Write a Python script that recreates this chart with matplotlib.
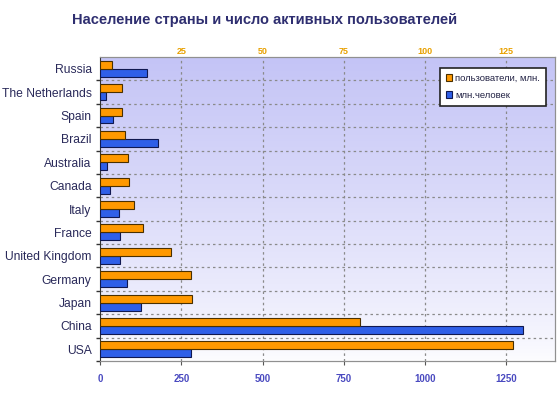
import numpy as np
import matplotlib
matplotlib.use('Agg')
import matplotlib.pyplot as plt

plt.rcParams['font.family'] = ['Liberation Sans', 'DejaVu Sans']

countries = ['Russia', 'The Netherlands', 'Spain', 'Brazil', 'Australia', 'Canada', 'Italy',
             'France', 'United Kingdom', 'Germany', 'Japan', 'China', 'USA']
users = [3.8, 6.7, 6.7, 7.7, 8.5, 8.8, 10.4, 13.2, 21.8, 28.0, 28.3, 80.0, 127.0]   # пользователи, млн. (верхняя ось)
population = [146, 17, 40, 177, 20, 32, 57, 60, 60, 84, 126, 1300, 280]            # млн.человек (нижняя ось)
top_ticks = [25, 50, 75, 100, 125]
bottom_ticks = [0, 250, 500, 750, 1000, 1250]

n = len(countries)
y = np.arange(n)[::-1]
h = 0.34

fig = plt.figure(figsize=(5.6, 3.99), dpi=100)
ax = fig.add_axes([0.1786, 0.0952, 0.8125, 0.7618])
ax.set_xlim(0, 1400)
ax.set_ylim(-0.5, n - 0.5)

# градиентный фон
grad = np.linspace(0, 1, 256).reshape(-1, 1)
top_c = np.array([196, 196, 246]) / 255
bot_c = np.array([253, 253, 255]) / 255
img = bot_c + (top_c - bot_c) * grad[..., None] ** 0.8
ax.imshow(img, extent=[0, 1400, -0.5, n - 0.5], aspect='auto', origin='lower', zorder=0)

ax2 = ax.twiny()
ax2.set_xlim(0, 140)
ax2.patch.set_visible(False)

b1 = ax2.barh(y + h / 2, users, height=h, color='#ff9900', edgecolor='#4a3000', linewidth=0.8,
              label='пользователи, млн.', zorder=3)
b2 = ax.barh(y - h / 2, population, height=h, color='#2f5fe8', edgecolor='#101850', linewidth=0.8,
             label='млн.человек', zorder=3)

ax.set_yticks(y)
ax.set_yticklabels(countries, fontsize=8.7, color='#2a2a5a')
ax.set_yticks(np.arange(n) - 0.5, minor=True)
ax.tick_params(axis='y', which='major', length=0, pad=6)
ax.tick_params(axis='y', which='minor', length=3, width=1, color='#333333', direction='out')

ax.set_xticks(bottom_ticks)
ax.set_xticklabels([str(t) for t in bottom_ticks], fontsize=7, color='#4a4ac0', fontweight='bold')
ax.tick_params(axis='x', length=3, color='#555555', pad=6)

ax2.set_xticks(top_ticks)
ax2.set_xticklabels([str(t) for t in top_ticks], fontsize=6.5, color='#e8a000', fontweight='bold')
ax2.tick_params(axis='x', length=0, pad=1)

for yy in np.arange(n - 1) + 0.5:
    ax.axhline(yy, color='#8a8a8a', linestyle=(0, (2, 2.5)), linewidth=0.9, zorder=1)
for xx in bottom_ticks[1:]:
    ax.axvline(xx, color='#8a8a8a', linestyle=(0, (2, 2.5)), linewidth=0.9, zorder=1)

for s in ['top', 'right', 'bottom']:
    ax.spines[s].set_color('#909090')
    ax2.spines[s].set_color('#909090')
ax.spines['left'].set_color('#333333')
ax2.spines['left'].set_visible(False)

leg = ax.legend(handles=[b1, b2], loc='upper right', bbox_to_anchor=(0.99, 0.98), fontsize=6.8,
                frameon=True, fancybox=False, edgecolor='#222222', framealpha=1,
                handlelength=0.7, handleheight=0.7, handletextpad=0.3, borderpad=0.6,
                labelspacing=0.9)
leg.get_frame().set_linewidth(1.2)
for t in leg.get_texts():
    t.set_color('#222244')

fig.text(0.473, 0.95, 'Население страны и число активных пользователей', ha='center', va='center',
         fontsize=10.5, color='#2e2e70', fontweight='bold')

fig.savefig('out.png', dpi=100)
